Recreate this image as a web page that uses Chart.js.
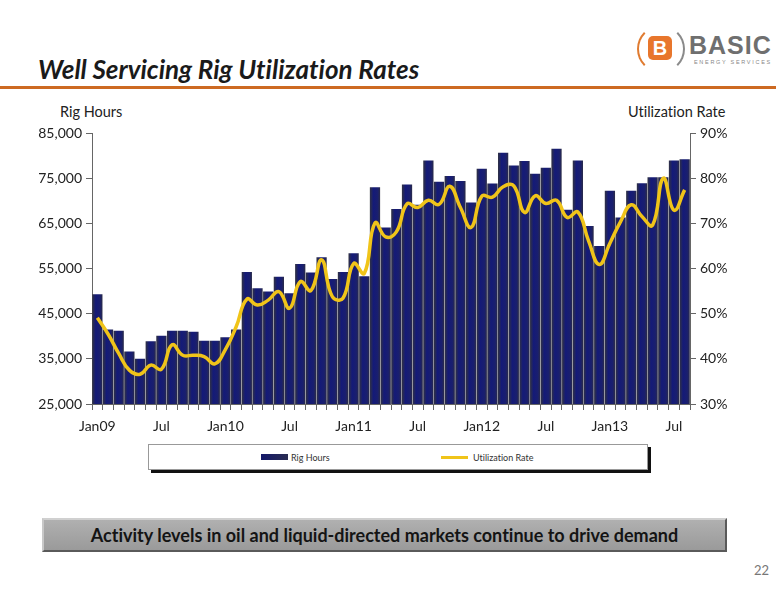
<!DOCTYPE html>
<html>
<head>
<meta charset="utf-8">
<script src="https://cdn.jsdelivr.net/npm/chart.js@4.4.1/dist/chart.umd.min.js"></script>
<style>
  body { margin: 0; background: #fff; font-family: Lato, "Open Sans", sans-serif; font-variant-ligatures: none; }
  #page { position: relative; width: 776px; height: 600px; overflow: hidden; background: #fff; }
  .abs { position: absolute; white-space: nowrap; }
  #title { left: 38px; top: 53px; font-size: 26px; font-weight: bold; font-style: italic; color: #1a1a1a; }
  #rule { left: 0; top: 86px; width: 776px; height: 3px; background: #cd6a22; }
  #ring { left: 637px; top: 25px; width: 44px; height: 44px; border-radius: 50%; border: 2px solid transparent; border-left-color: #e07b30; border-right-color: #8a8a8a; }
  #bbox { left: 648px; top: 36px; width: 24px; height: 24px; background: #e8762c; border-radius: 5px; color: #fff; font: bold 20px "Liberation Sans", sans-serif; text-align: center; line-height: 24px; }
  #basic { left: 689px; top: 31px; font: bold 25px "Liberation Sans", sans-serif; color: #6f6f6f; letter-spacing: 1px; }
  #energy { left: 694px; top: 59px; font: 5.5px "Liberation Sans", sans-serif; color: #888; letter-spacing: 1.7px; }
  .axt { top: 103px; font-size: 14.5px; color: #222; }
  #legend { left: 148px; top: 444px; width: 498px; height: 24px; border: 1px solid #999; background: #fff; box-shadow: 3px 3px 0 #111; }
  .lg { position: absolute; top: 7px; font-size: 9px; color: #333; }
  #banner { left: 42px; top: 518px; width: 681px; height: 30px; background: linear-gradient(#b0b0b0, #9a9a9a); border: 2px solid; border-color: #d0d0d0 #5a5a5a #5a5a5a #c8c8c8; text-align: center; line-height: 30px; font-size: 18px; font-weight: bold; color: #141414; }
  #pnum { left: 754px; top: 562px; font-size: 13px; color: #777; }
</style>
</head>
<body>
<div id="page">
  <div id="title" class="abs">Well Servicing Rig Utilization Rates</div>
  <div id="rule" class="abs"></div>
  <div id="ring" class="abs"></div>
  <div id="bbox" class="abs">B</div>
  <div id="basic" class="abs">BASIC</div>
  <div id="energy" class="abs">ENERGY SERVICES</div>
  <div class="abs axt" style="left:60px">Rig Hours</div>
  <div class="abs axt" style="left:628px">Utilization Rate</div>
  <canvas id="chart" class="abs" width="776" height="320" style="left:0;top:120px"></canvas>
  <div id="legend" class="abs">
    <div style="position:absolute;left:112px;top:9px;width:27px;height:6px;background:linear-gradient(90deg,#14186a,#2a2d52)"></div>
    <div class="lg" style="left:142px">Rig Hours</div>
    <div style="position:absolute;left:292px;top:11px;width:27px;height:3px;background:#f0c419"></div>
    <div class="lg" style="left:324px">Utilization Rate</div>
  </div>
  <div id="banner" class="abs">Activity levels in oil and liquid-directed markets continue to drive demand</div>
  <div id="pnum" class="abs">22</div>
</div>
<script>
const months = [
  'Jan09','Feb09','Mar09','Apr09','May09','Jun09','Jul09','Aug09','Sep09','Oct09','Nov09','Dec09',
  'Jan10','Feb10','Mar10','Apr10','May10','Jun10','Jul10','Aug10','Sep10','Oct10','Nov10','Dec10',
  'Jan11','Feb11','Mar11','Apr11','May11','Jun11','Jul11','Aug11','Sep11','Oct11','Nov11','Dec11',
  'Jan12','Feb12','Mar12','Apr12','May12','Jun12','Jul12','Aug12','Sep12','Oct12','Nov12','Dec12',
  'Jan13','Feb13','Mar13','Apr13','May13','Jun13','Jul13','Aug13'
]

// shown x labels, keyed by month
const xTicks = {
  Jan09: 'Jan09', Jul09: 'Jul', Jan10: 'Jan10', Jul10: 'Jul', Jan11: 'Jan11',
  Jul11: 'Jul', Jan12: 'Jan12', Jul12: 'Jul', Jan13: 'Jan13', Jul13: 'Jul'
}

const rigHours = [
  49300, 41500, 41200, 36600, 35000, 38900, 40100, 41200, 41200, 41000, 39000, 39000,
  39800, 41500, 54200, 50600, 49900, 53200, 49500, 56000, 54100, 57500, 52700, 54200,
  58400, 53300, 73000, 64100, 68200, 73600, 69100, 78900, 74200, 75500, 74400, 69600,
  77100, 73800, 80600, 77800, 78800, 76000, 77300, 81500, 68000, 78900, 64400, 60000,
  72200, 66300, 72200, 73900, 75200, 75200, 78900, 79200
]

const utilization = [
  49.1, 45.5, 41.2, 37.5, 36.6, 38.6, 37.7, 43.1, 40.8, 40.8, 40.5, 38.9,
  42.1, 47.1, 53.2, 51.9, 53.0, 54.9, 51.2, 57.1, 55.1, 61.9, 53.8, 53.4,
  61.1, 58.9, 70.1, 67.0, 68.1, 74.3, 73.5, 75.1, 74.2, 78.2, 73.5, 69.1,
  76.0, 75.8, 78.1, 78.3, 72.4, 76.1, 74.4, 75.1, 71.3, 72.5, 66.1, 60.9,
  65.6, 70.4, 74.1, 71.5, 69.6, 80.0, 72.9, 77.4
]

const tickFont = { family: 'Lato', size: 14 }

// each bar gets a left-to-right shade like the original
function barFill(ctx) {
  const chart = ctx.chart
  if (!chart.chartArea) return '#1a1f6c'
  const x = chart.scales.x.getPixelForValue(ctx.dataIndex)
  const w = chart.scales.x.width / months.length
  const g = chart.ctx.createLinearGradient(x - w / 2, 0, x + w / 2, 0)
  g.addColorStop(0, '#33343f')
  g.addColorStop(0.35, '#141a78')
  g.addColorStop(0.75, '#1a1f6e')
  g.addColorStop(1, '#2c2d45')
  return g
}

new Chart(document.getElementById('chart').getContext('2d'), {
  data: {
    labels: months,
    datasets: [
      {
        type: 'line',
        label: 'Utilization Rate',
        data: utilization,
        yAxisID: 'y1',
        borderColor: '#f0c419',
        borderWidth: 3.5,
        tension: 0.45,
        pointRadius: 0,
        order: 0,
      },
      {
        type: 'bar',
        label: 'Rig Hours',
        data: rigHours,
        yAxisID: 'y',
        backgroundColor: barFill,
        barPercentage: 0.96,
        categoryPercentage: 1,
        order: 1,
      }
    ]
  },
  options: {
    responsive: false,
    animation: false,
    layout: { padding: { top: 13 } },
    plugins: { legend: { display: false }, tooltip: { enabled: false } },
    scales: {
      x: {
        offset: true,
        grid: { offset: true, drawOnChartArea: false, tickLength: 6, color: '#666' },
        border: { color: '#666' },
        ticks: {
          autoSkip: false, maxRotation: 0, font: tickFont, color: '#222', padding: 8,
          callback: (v, i) => xTicks[months[i]] || ''
        },
        afterFit: (s) => { s.height = 36 }
      },
      y: {
        position: 'left',
        min: 25000, max: 85000,
        ticks: {
          stepSize: 10000, font: tickFont, color: '#222', padding: 4,
          callback: (v) => v.toLocaleString('en-US')
        },
        grid: { drawOnChartArea: false, tickLength: 6, color: '#666' },
        border: { color: '#666' },
        afterFit: (s) => { s.width = 92 }
      },
      y1: {
        position: 'right',
        min: 30, max: 90,
        ticks: {
          stepSize: 10, font: tickFont, color: '#222', padding: 4,
          callback: (v) => v + '%'
        },
        grid: { drawOnChartArea: false, tickLength: 6, color: '#666' },
        border: { color: '#666' },
        afterFit: (s) => { s.width = 86 }
      }
    }
  }
})
</script>
</body>
</html>
